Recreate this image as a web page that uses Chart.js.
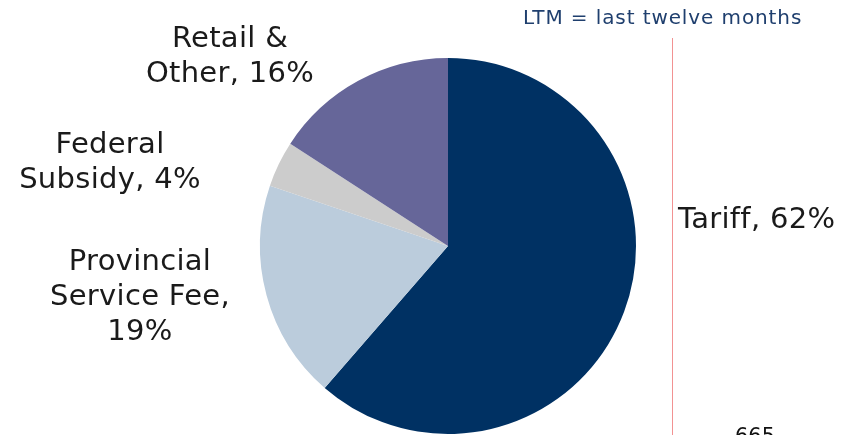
<!DOCTYPE html>
<html>
<head>
<meta charset="utf-8">
<style>
  html, body { margin: 0; padding: 0; background: #ffffff; }
  #wrap { position: relative; width: 863px; height: 435px; overflow: hidden; }
  canvas { display: block; }
</style>
<script src="https://cdn.jsdelivr.net/npm/chart.js@4/dist/chart.umd.min.js"></script>
</head>
<body>
<div id="wrap"><canvas id="chart" width="863" height="435"></canvas></div>
<script>
// Revenue mix (LTM), percent of total
const categories = ['Tariff', 'Provincial Service Fee', 'Federal Subsidy', 'Retail & Other'];
const shares = [62, 19, 4, 16];
const sliceColors = ['#003163', '#BBCCDC', '#CCCCCC', '#666699'];

// How each slice label is broken into lines
const labelLines = [
  ['Tariff, ' + shares[0] + '%'],
  ['Provincial', 'Service Fee,', shares[1] + '%'],
  ['Federal', 'Subsidy, ' + shares[2] + '%'],
  ['Retail &', 'Other, ' + shares[3] + '%']
];

// Label placement relative to the pie centre (x, first baseline), alignment
const labelPlacement = [
  { dx: 230, dy: -18, align: 'left' },
  { dx: -308, dy: 24, align: 'center' },
  { dx: -338, dy: -93, align: 'center' },
  { dx: -218, dy: -199, align: 'center' }
];

const sliceLabels = {
  id: 'sliceLabels',
  afterDatasetsDraw(chart) {
    const ctx = chart.ctx;
    const arc = chart.getDatasetMeta(0).data[0];
    const cx = arc.x, cy = arc.y;
    ctx.save();
    ctx.fillStyle = '#1a1a1a';
    ctx.font = '29px "DejaVu Sans", Verdana, sans-serif';
    ctx.letterSpacing = '0.3px';
    ctx.textBaseline = 'alphabetic';
    labelLines.forEach((lines, i) => {
      const p = labelPlacement[i];
      ctx.textAlign = p.align;
      lines.forEach((t, j) => {
        ctx.fillText(t, cx + p.dx, cy + p.dy + j * 35);
      });
    });
    ctx.restore();
  }
};

// Divider, footnote and page number around the pie
const pageDecor = {
  id: 'pageDecor',
  afterDraw(chart) {
    const ctx = chart.ctx;
    ctx.save();
    ctx.strokeStyle = '#F29292';
    ctx.lineWidth = 1;
    ctx.beginPath();
    ctx.moveTo(672.5, 38);
    ctx.lineTo(672.5, 435);
    ctx.stroke();

    ctx.fillStyle = '#1F3F6E';
    ctx.font = '20px "DejaVu Sans", Verdana, sans-serif';
    ctx.letterSpacing = '0.9px';
    ctx.textAlign = 'left';
    ctx.textBaseline = 'alphabetic';
    ctx.fillText('LTM = last twelve months', 523, 24);

    ctx.fillStyle = '#111111';
    ctx.font = '21px "DejaVu Sans", Verdana, sans-serif';
    ctx.letterSpacing = '0px';
    ctx.fillText('665', 735, 443);
    ctx.restore();
  }
};

new Chart(document.getElementById('chart'), {
  type: 'pie',
  data: {
    labels: categories,
    datasets: [{
      data: shares,
      backgroundColor: sliceColors,
      borderWidth: 0
    }]
  },
  options: {
    responsive: false,
    animation: false,
    layout: { padding: { top: 58, bottom: 1, left: 260, right: 227 } },
    plugins: {
      legend: { display: false },
      tooltip: { enabled: false }
    }
  },
  plugins: [sliceLabels, pageDecor]
});
</script>
</body>
</html>
